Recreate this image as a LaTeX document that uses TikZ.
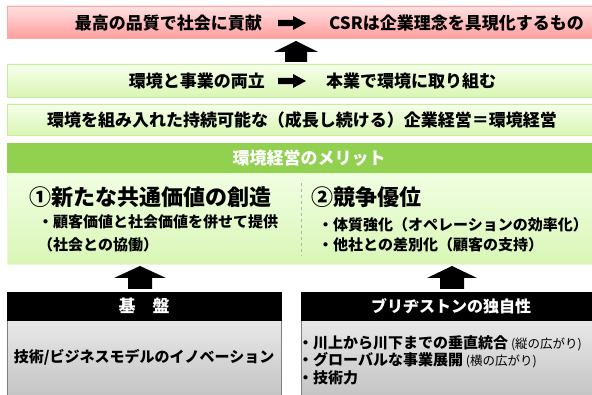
\documentclass[tikz,border=0pt]{standalone}
\usepackage{fontspec}
\newfontfamily\jp{Noto Sans CJK JP}
\definecolor{pinkT}{HTML}{FFE2E2}
\definecolor{pinkB}{HTML}{FF9E9E}
\definecolor{pinkD}{HTML}{FFA8A8}
\definecolor{grnT}{HTML}{F7FFEC}
\definecolor{grnB}{HTML}{D9F6B4}
\definecolor{grnD}{HTML}{C9EC9C}
\definecolor{meritH}{HTML}{92D050}
\definecolor{meritT}{HTML}{F1FFE2}
\definecolor{meritB}{HTML}{D9F6B6}
\definecolor{grayT}{HTML}{E8E8E8}
\definecolor{grayB}{HTML}{BEBEBE}
\definecolor{grayD}{HTML}{7F7F7F}
\begin{document}
\begin{tikzpicture}[x=1pt,y=-1pt,
  box/.style={anchor=north west,inner sep=0pt,outer sep=0pt,line width=0.8pt},
  txt/.style={inner sep=0pt,font=\jp\bfseries\fontsize{17}{20}\selectfont},
  big/.style={inner sep=0pt,font=\jp\bfseries\fontsize{22}{26}\selectfont},
  mid/.style={inner sep=0pt,font=\jp\bfseries\fontsize{15}{18}\selectfont},
  blk/.style={fill=black}]
\useasboundingbox (0,0) rectangle (592,395);
\clip (0,0) rectangle (592,395);
% boxes
\node[box,draw=pinkD,top color=pinkT,bottom color=pinkB,minimum width=604pt,minimum height=32pt] (pink) at (7,6) {};
\node[box,draw=grnD,top color=grnT,bottom color=grnB,minimum width=604pt,minimum height=33pt] (g2) at (7,64) {};
\node[box,draw=grnD,top color=grnT,bottom color=grnB,minimum width=604pt,minimum height=31pt] (g3) at (7,104) {};
\node[box,draw=meritT!60!meritB,top color=meritT,bottom color=meritB,minimum width=604pt,minimum height=91pt] (mb) at (7,173) {};
\node[box,fill=meritH,minimum width=604pt,minimum height=30pt] (mh) at (7,143) {};
\node[box,draw=grayD,top color=grayT,bottom color=grayB,minimum width=274pt,minimum height=90pt] (lb) at (7,320) {};
\node[box,fill=black,draw=black,minimum width=274pt,minimum height=28pt] (lh) at (7,292) {};
\node[box,draw=grayD,top color=grayT,bottom color=grayB,minimum width=320pt,minimum height=90pt] (rb) at (301,320) {};
\node[box,fill=black,draw=black,minimum width=320pt,minimum height=28pt] (rh) at (301,292) {};
% divider
\draw[dashed,color=black!30,line width=0.6pt] (301,183) -- (301,256);
% top row
\node[txt,anchor=east] (t1) at (262,23) {最高の品質で社会に貢献};
\coordinate (a1) at (292,23);
\fill[blk,shift={(a1)}] (-14,-3.2) -- (1,-3.2) -- (1,-7) -- (14,0) -- (1,7) -- (1,3.2) -- (-14,3.2) -- cycle;
\node[txt,anchor=west] (t2) at (329,23) {CSRは企業理念を具現化するもの};
% second row
\node[txt,anchor=east] (t3) at (265,81) {環境と事業の両立};
\coordinate (a2) at (292,81);
\fill[blk,shift={(a2)}] (-14,-3.2) -- (1,-3.2) -- (1,-7) -- (14,0) -- (1,7) -- (1,3.2) -- (-14,3.2) -- cycle;
\node[txt,anchor=west] (t4) at (326,81) {本業で環境に取り組む};
% third row
\node[txt] (t5) at (302,120) {環境を組み入れた持続可能な（成長し続ける）企業経営＝環境経営};
% merit
\node[txt,text=white] (mt) at (309,158) {環境経営のメリット};
\node[big,anchor=west] (m1) at (29,197) {①新たな共通価値の創造};
\node[mid,anchor=west] (m1a) at (38,222) {・顧客価値と社会価値を併せて提供};
\node[mid,anchor=west] (m1b) at (38,245) {（社会との協働）};
\node[big,anchor=west] (m2) at (311,197) {②競争優位};
\node[mid,anchor=west] (m2a) at (318,225) {・体質強化（オペレーションの効率化）};
\node[mid,anchor=west] (m2b) at (318,245) {・他社との差別化（顧客の支持）};
% up arrows
\fill[blk] (285,62) -- (285,52) -- (274,52) -- (296,41) -- (318,52) -- (307,52) -- (307,62) -- cycle;
\fill[blk] (128,289) -- (128,278) -- (114,278) -- (140,266) -- (166,278) -- (152,278) -- (152,289) -- cycle;
\fill[blk] (440,289) -- (440,278) -- (427,278) -- (452,266) -- (477,278) -- (464,278) -- (464,289) -- cycle;
% bottom left
\node[txt,text=white] (l1) at (144,306) {基　盤};
\node[mid] (l2) at (144,357) {技術/ビジネスモデルのイノベーション};
% bottom right
\node[mid,text=white,font=\jp\bfseries\fontsize{16}{19}\selectfont] (r1) at (451,306) {ブリヂストンの独自性};
\node[mid,anchor=west] (r2) at (298,343) {・川上から川下までの垂直統合{\fontsize{12.5}{14}\selectfont\mdseries\ (縦の広がり)}};
\node[mid,anchor=west] (r3) at (298,360) {・グローバルな事業展開{\fontsize{12.5}{14}\selectfont\mdseries\ (横の広がり)}};
\node[mid,anchor=west] (r4) at (298,378) {・技術力};
\end{tikzpicture}
\end{document}
